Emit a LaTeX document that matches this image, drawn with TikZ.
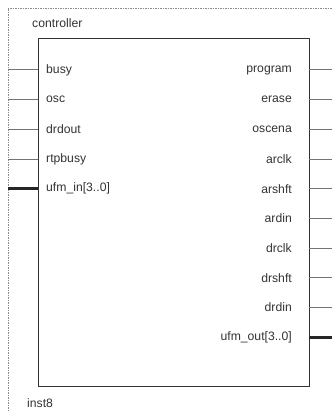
\documentclass[tikz,border=0pt]{standalone}
\usepackage{fontspec}
\setmainfont{Liberation Sans}
\begin{document}
\begin{tikzpicture}[x=1pt,y=-1pt,
  lbl/.style={inner sep=0pt, text=black!80, font=\fontsize{12.2}{14}\selectfont},
  inlbl/.style={lbl, anchor=west},
  outlbl/.style={lbl, anchor=east},
  wire/.style={draw=black!55, line width=1pt},
  bus/.style={draw=black!85, line width=2.6pt},
  frame/.style={draw=black!45, line width=0.8pt, dash pattern=on 1.5pt off 1pt},
  block/.style={draw=black!80, line width=0.9pt}]
\useasboundingbox (0,0) rectangle (332,411);
% instance frame (open at right and bottom)
\draw[frame] (8,411) -- (8,8) -- (332,8);
% symbol body
\coordinate (bodyNW) at (38,38);
\coordinate (bodySE) at (309,386);
\draw[block] (bodyNW) rectangle (bodySE);
\node[lbl, anchor=base west] (title) at (32,28) {controller};
\node[lbl, anchor=base west] (inst) at (27,407) {inst8};
% input pins
\foreach \n/\t/\y/\s in {busy/busy/70/wire, osc/osc/99.7/wire, drdout/drdout/129.4/wire,
    rtpbusy/rtpbusy/159.1/wire, ufmin/ufm\_in[3..0]/188.8/bus} {
  \coordinate (\n-ext) at (8,\y);
  \coordinate (\n-pin) at (38,\y);
  \node[inlbl] (\n-lbl) at (46,\y) {\t};
  \draw[\s] (\n-ext) -- (\n-pin);
}
% output pins
\foreach \n/\t/\y/\s in {program/program/70/wire, erase/erase/99.7/wire, oscena/oscena/129.4/wire,
    arclk/arclk/159.1/wire, arshft/arshft/188.8/wire, ardin/ardin/218.5/wire,
    drclk/drclk/248.2/wire, drshft/drshft/277.9/wire, drdin/drdin/307.6/wire,
    ufmout/ufm\_out[3..0]/337.3/bus} {
  \coordinate (\n-pin) at (309,\y);
  \coordinate (\n-ext) at (332,\y);
  \node[outlbl] (\n-lbl) at (292,\y) {\t};
  \draw[\s] (\n-pin) -- (\n-ext);
}
\end{tikzpicture}
\end{document}
